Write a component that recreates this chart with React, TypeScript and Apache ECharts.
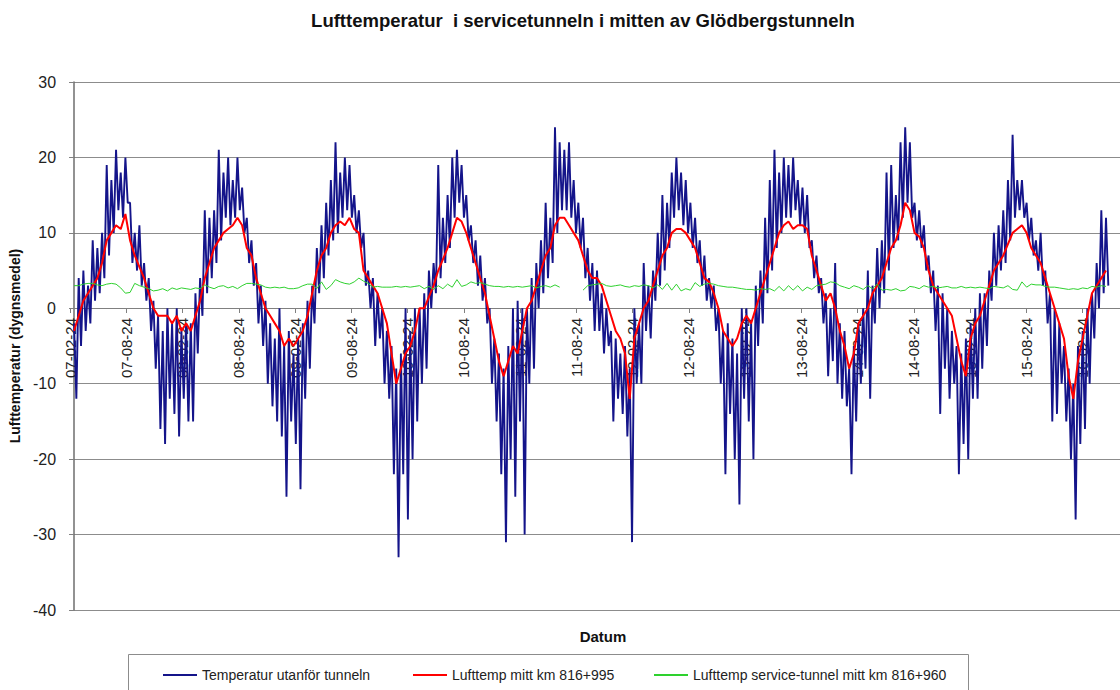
import React, { useEffect, useRef } from "react";
import * as echarts from "echarts";

// x axis unit: months since 2007-02-24; one entry below = half a month
const xTickLabels = [
  "07-02-24", "07-08-24", "08-02-24", "08-08-24", "09-02-24", "09-08-24",
  "10-02-24", "10-08-24", "11-02-24", "11-08-24", "12-02-24", "12-08-24",
  "13-02-24", "13-08-24", "14-02-24", "14-08-24", "15-02-24", "15-08-24", "16-02-24",
];

const STEP = 0.5;

// Temperatur utanför tunneln: day-to-day highs and lows per half month
const blueHi = [
  -2, 4, 5, 3, 9, 8, 10, 19, 17, 21, 18, 20, 14, 10, 11, 6, 4, 1, -1, -3, 0, -2, 0, -3, -2,
  -2, 2, 4, 13, 12, 13, 21, 18, 20, 17, 20, 16, 12, 9, 6, 3, 1, -2, -4, 0, -5, -3, -6, -4, -2,
  1, 3, 8, 11, 14, 17, 22, 18, 20, 19, 15, 13, 10, 5, 4, 2, 0, -3, -5, -8, -6, 0, -3, 0, 0,
  2, 5, 6, 19, 12, 15, 20, 21, 19, 15, 11, 9, 7, 4, 0, -4, -6, -8, -5, 0, 1, 0, 0, 4, 6,
  9, 14, 12, 24, 22, 21, 22, 17, 14, 12, 8, 6, 5, 2, 0, -3, -4, -6, -5, -8, 0, -2, 6, 3, 5,
  10, 15, 14, 18, 20, 18, 17, 14, 12, 9, 7, 4, 3, 0, -3, -2, -4, -6, 0, 0, -2, 3, 5, 12, 17,
  21, 18, 20, 19, 20, 17, 16, 15, 9, 7, 4, 2, 0, 6, -2, -3, -8, -5, -2, 0, 5, 3, 8, 9, 18,
  19, 15, 22, 24, 22, 14, 13, 11, 7, 5, 3, 2, 0, -3, -5, -6, -4, -2, 0, 2, 2, 5, 10, 11, 13,
  17, 23, 17, 17, 14, 12, 9, 10, 5, 2, 0, -2, -5, -8, -10, -5, -3, 0, 2, 6, 13, 12,
];
const blueLo = [
  -12, -5, -3, -2, 1, 2, 4, 7, 10, 13, 12, 14, 6, 5, 3, 1, -3, -8, -16, -18, -12, -14, -17, -12, -15,
  -15, -6, -1, 2, 4, 6, 9, 12, 11, 12, 13, 10, 6, 3, -2, -5, -10, -13, -15, -17, -25, -15, -18, -24, -12,
  -8, -2, 2, 4, 7, 9, 10, 12, 13, 12, 10, 8, 3, 0, -5, -4, -10, -12, -22, -33, -22, -28, -20, -15, -10,
  -8, 0, 2, 4, 6, 8, 12, 14, 12, 9, 6, 3, 1, -2, -10, -15, -22, -31, -20, -25, -15, -30, -10, -8, 0,
  2, 4, 6, 10, 13, 13, 12, 10, 8, 4, 1, -3, -3, -6, -5, -15, -12, -14, -17, -31, -10, -10, -3, -4, 1,
  3, 5, 8, 12, 13, 11, 10, 8, 6, 3, 1, 0, -3, -10, -22, -14, -20, -26, -12, -15, -20, -5, -2, 2, 5,
  8, 10, 12, 12, 13, 11, 10, 8, 4, 2, -2, -9, -7, -10, -12, -13, -22, -15, -10, -8, -12, -2, 0, 2, 5,
  8, 9, 12, 14, 12, 9, 8, 5, 2, -3, -14, -8, -12, -10, -22, -18, -20, -12, -12, -8, -5, 1, 3, 5, 6,
  9, 12, 13, 12, 9, 7, 5, 3, -2, -15, -14, -10, -15, -20, -28, -18, -16, -10, -4, 0, 2, 3,
];

// Lufttemp mitt km 816+995
const redValues = [
  -3, -1, 1, 2, 3, 4, 6, 9, 10, 11, 10.5, 12.5, 9, 7, 5.5, 4, 2, 0, -1, -1, -1, -2, -1, -3, -2,
  -3, -1, 1, 4, 6, 8, 9, 10, 10.5, 11, 12, 11, 8, 7, 4, 2, 0, -1, -2, -3, -5, -4, -5, -4, -3,
  -1, 2, 5, 7, 8, 10, 11, 11.5, 11, 12, 10.5, 10, 5, 4, 3, 2, 0, -2, -6, -10, -8, -6, -5, -3, 0,
  0, 1.5, 3, 5, 6.5, 8, 10, 12, 11.5, 10, 8, 6, 4, 2, -1, -4, -7, -9, -7, -5, -6, -3, 0, 1, 3,
  5, 7, 8, 11, 12, 12, 11, 10, 9, 7, 5, 4, 4, 3, 1, -1, -3, -4, -6, -12, -4, -2, 0, 1, 3,
  5, 7, 8, 10, 10.5, 10.5, 10, 9, 8, 6, 4, 3.5, 2, 0, -3, -4, -5, -4, -2, -1, -2, 0, 2, 4, 6,
  8, 10, 11, 11.5, 10.5, 11, 11, 10.5, 7, 5, 3, 1, 2, 0, -3, -5, -8, -6, -2, -1, 0, 2, 3, 4, 6,
  8, 9, 11, 14, 13, 10, 9.5, 8, 5, 3, 2, 1, 0, -1, -4, -7, -9, -4, -2, -1, 1, 3, 5, 6, 7,
  8.5, 10, 10.5, 11, 10, 8, 7, 6, 4, 2, 0, -2, -4, -9, -12, -7, -4, -1, 2, 3, 4, 5,
];

// Lufttemp service-tunnel mitt km 816+960 (null = no data)
const greenValues = [
  3, 3, 3.2, 3.3, 3.3, 3.1, 3.0, 3.2, 3.3, 3.2, 2.7, 2.0, 2.1,
  3.3, 3.0, 2.8, 2.6, 2.3, 2.4, 2.6, 2.3, 2.7, 2.5, 2.7, 2.6,
  2.5, 2.7, 2.6, 3.1, 2.8, 2.6, 2.9, 3.0, 2.7, 2.9, 2.6, 3.0, 3.3,
  3.3, 3.2, 3.1, 2.8, 2.7, 2.8, 2.7, 2.8, 2.6, 2.6, 2.7, 3.0, 3.2,
  3.2, 2.6, 3.5, 2.5, 3.0, 3.8, 3.5, 3.3, 3.2, 3.5,
  4.0, 3.6, 3.3, 2.8, 2.9, 2.8, 2.8, 2.8, 2.9, 2.8, 2.9, 2.8, 2.9, 3.0,
  2.6, 2.9, 2.5, 3.0, 2.6, 3.2, 2.8, 3.8, 2.9, 3.1, 3.5, 3.3, 3.4, 3.2, 3.0,
  2.9, 2.9, 2.8, 2.9, 2.8, 2.9, 2.8, 2.9, 3.0, 2.7, 2.9, 3.0, 2.8, 3.1, 2.8,
  null, null, null, null,
  2.4, 3.0, 3.1, 3.2, 3.3, 3.0, 2.9, 3.0, 3.1, 2.9, 2.8, 3.0, 2.9, 3.1, 3.0, 2.7,
  3.1, 2.5, 3.3, 2.4, 3.2, 2.3, 2.6, 2.4, 3.4, 2.9, 3.2, 3.3, 3.2, 3.0, 2.9, 2.8, 2.8, 2.7, 2.6, 2.5, 2.5, 2.4, 2.6, 2.5, 2.6,
  2.3, 2.9, 2.3, 3.0, 2.4, 3.0, 2.3, 2.8, 2.5, 3.0, 3.1, 3.2, 3.5, 3.4, 3.0, 2.8, 2.6, 3.0,
  2.8, 2.5, 3.0, 2.6, 3.2, 2.4, 2.5, 2.4, 2.6, 2.3, 2.4, 2.9, 2.8, 2.6, 3.0, 2.8, 2.9, 2.7,
  2.8, 2.9, 2.7, 2.7, 2.9, 2.7, 2.8, 2.7, 2.8, 2.7, 2.6, 2.9, 2.8, 2.7, 3.0, 2.5, 2.4, 3.5,
  2.8, 3.2, 3.1, 3.1, 2.9, 2.8, 2.8, 2.7, 2.6, 2.5, 2.6, 2.5, 2.7, 2.6, 2.9, 2.8, 3.0, 2.9,
];

const seriesNames = [
  "Temperatur utanför tunneln",
  "Lufttemp mitt km 816+995",
  "Lufttemp service-tunnel mitt km 816+960",
];

const FONT = '"Liberation Sans", Arial, Helvetica, sans-serif';

export default function App() {
  const ref = useRef<HTMLDivElement>(null);

  useEffect(() => {
    if (!ref.current) return;
    const chart = echarts.init(ref.current, undefined, { renderer: "svg" });

    const blueData: [number, number][] = [];
    blueHi.forEach((h, i) => {
      blueData.push([i * STEP, h]);
      if (i < blueLo.length) blueData.push([i * STEP + STEP / 2, blueLo[i]]);
    });
    const redData = redValues.map((v, i) => [i * STEP, v]);
    const greenData = greenValues.map((v, i) => [i * STEP, v]);

    const legendBase = {
      top: 668,
      padding: 0,
      icon: "rect",
      itemWidth: 34,
      itemHeight: 2,
      textStyle: { fontSize: 14, fontFamily: FONT, color: "#222" },
    };

    const xCommon = {
      type: "value",
      min: 0,
      max: 112,
      interval: 6,
      splitLine: { show: false },
    };

    chart.setOption({
      animation: false,
      backgroundColor: "#ffffff",
      grid: [
        { left: 70, top: 82, right: -16, height: 528 },
        // upper half of the plot: its bottom edge is the y = 0 line, where the dates sit
        { left: 70, top: 82, right: -16, height: 226 },
      ],
      graphic: [
        {
          type: "text",
          x: 583,
          y: 20,
          style: {
            text: "Lufttemperatur  i servicetunneln i mitten av Glödbergstunneln",
            fontSize: 18.5,
            fontWeight: "bold",
            fontFamily: FONT,
            fill: "#111",
            align: "center",
            verticalAlign: "middle",
          },
        },
        {
          type: "text",
          x: 603,
          y: 636,
          style: {
            text: "Datum",
            fontSize: 15,
            fontWeight: "bold",
            fontFamily: FONT,
            fill: "#111",
            align: "center",
            verticalAlign: "middle",
          },
        },
        {
          type: "rect",
          shape: { x: 128.5, y: 654.5, width: 840, height: 60 },
          style: { fill: "none", stroke: "#8c8c8c", lineWidth: 1 },
        },
      ],
      legend: [
        { ...legendBase, left: 163, data: [seriesNames[0]] },
        { ...legendBase, left: 413, data: [seriesNames[1]] },
        { ...legendBase, left: 654, data: [seriesNames[2]] },
      ],
      xAxis: [
        {
          ...xCommon,
          gridIndex: 0,
          axisLine: { show: false },
          axisTick: { show: false },
          axisLabel: { show: false },
        },
        {
          ...xCommon,
          gridIndex: 1,
          position: "bottom",
          axisLine: { show: true, onZero: false, lineStyle: { color: "#808080", width: 1 } },
          axisTick: { show: true, length: 5, lineStyle: { color: "#808080" } },
          axisLabel: {
            rotate: 90,
            margin: 10,
            fontSize: 15,
            fontFamily: FONT,
            color: "#222",
            showMaxLabel: false,
            formatter: (v: number) => {
              const idx = Math.round(v / 6);
              return Math.abs(v - idx * 6) < 1e-6 && xTickLabels[idx] ? xTickLabels[idx] : "";
            },
          },
        },
      ],
      yAxis: [
        {
          type: "value",
          gridIndex: 0,
          min: -40,
          max: 30,
          interval: 10,
          name: "Lufttemperatur (dygnsmedel)",
          nameLocation: "middle",
          nameGap: 52,
          nameTextStyle: { fontSize: 14, fontWeight: "bold", fontFamily: FONT, color: "#111" },
          axisLine: { show: true, onZero: false, lineStyle: { color: "#6e6e6e", width: 1.5 } },
          axisTick: { show: true, length: 5, lineStyle: { color: "#808080" } },
          axisLabel: { margin: 18, fontSize: 16, fontFamily: FONT, color: "#222" },
          splitLine: { show: true, lineStyle: { color: "#8c8c8c", width: 1 } },
        },
        {
          type: "value",
          gridIndex: 1,
          min: 0,
          max: 30,
          show: false,
          splitLine: { show: false },
        },
      ],
      series: [
        {
          name: seriesNames[0],
          type: "line",
          data: blueData,
          showSymbol: false,
          symbol: "none",
          color: "#14148a",
          lineStyle: { color: "#14148a", width: 1.9 },
          z: 2,
        },
        {
          name: seriesNames[1],
          type: "line",
          data: redData,
          showSymbol: false,
          symbol: "none",
          color: "#ff0000",
          lineStyle: { color: "#ff0000", width: 2 },
          z: 3,
        },
        {
          name: seriesNames[2],
          type: "line",
          data: greenData,
          showSymbol: false,
          symbol: "none",
          color: "#2ed12e",
          lineStyle: { color: "#2ed12e", width: 1 },
          z: 4,
        },
      ],
    });

    return () => chart.dispose();
  }, []);

  return (
    <div
      ref={ref}
      style={{ position: "absolute", left: 0, top: 0, width: 1120, height: 690 }}
    />
  );
}
